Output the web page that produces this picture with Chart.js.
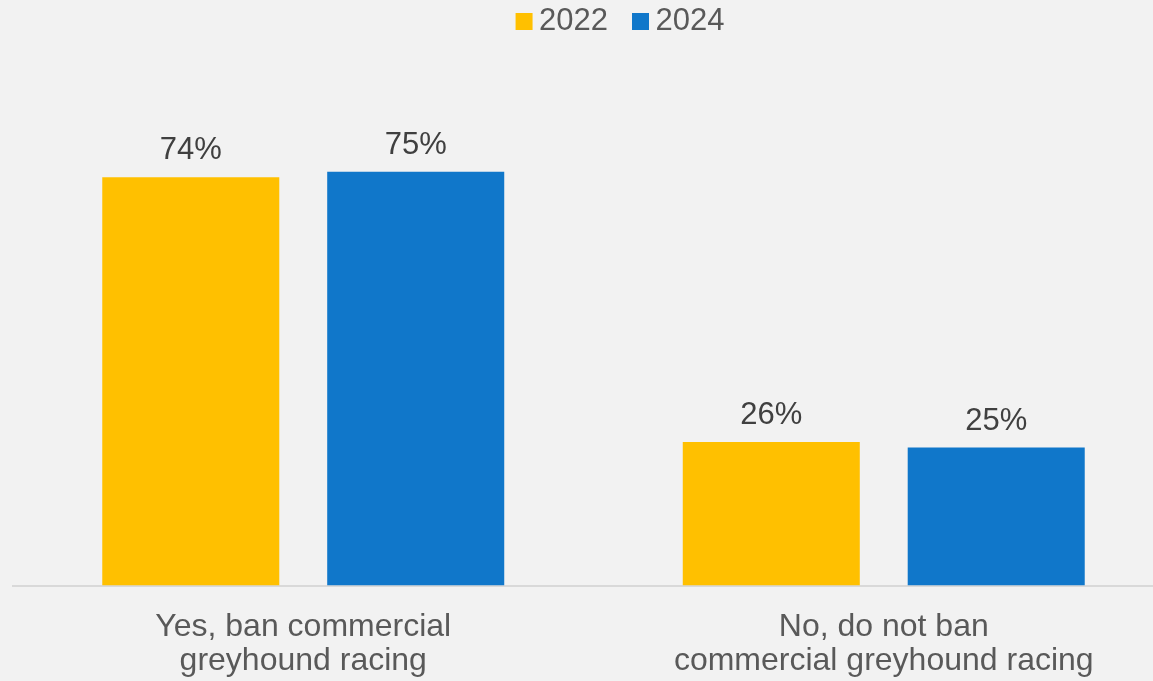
<!DOCTYPE html>
<html>
<head>
<meta charset="utf-8">
<script src="https://cdn.jsdelivr.net/npm/chart.js@4.4.1/dist/chart.umd.min.js"></script>
<style>
  html, body { margin: 0; padding: 0; background: #f2f2f2; overflow: hidden; }
  #wrap { width: 1209px; height: 681px; position: relative; }
</style>
</head>
<body>
<div id="wrap"><canvas id="c"></canvas></div>
<script>
const categories = [
  ["Yes, ban commercial", "greyhound racing"],
  ["No, do not ban", "commercial greyhound racing"]
];
const seriesNames = ["2022", "2024"];
const values2022 = [74, 26];
const values2024 = [75, 25];
const seriesColors = ["#FFC000", "#1077CA"];

const FONT = '"Liberation Sans", Arial, sans-serif';

// legend marker images (square offset inside a wider transparent canvas)
function makeMarker(color) {
  const cv = document.createElement('canvas');
  cv.width = 46; cv.height = 17;
  const g = cv.getContext('2d');
  g.fillStyle = color;
  g.fillRect(28, 0, 17, 17);
  return cv;
}
const markers = seriesColors.map(makeMarker);

const valueLabels = {
  id: 'valueLabels',
  afterDatasetsDraw(chart) {
    const ctx = chart.ctx;
    ctx.save();
    ctx.font = '31px ' + FONT;
    ctx.fillStyle = '#404040';
    ctx.textAlign = 'center';
    ctx.textBaseline = 'alphabetic';
    chart.data.datasets.forEach((ds, i) => {
      chart.getDatasetMeta(i).data.forEach((bar, j) => {
        ctx.fillText(ds.data[j] + '%', bar.x, bar.y - 18);
      });
    });
    ctx.restore();
  }
};

new Chart(document.getElementById('c'), {
  type: 'bar',
  data: {
    labels: categories,
    datasets: [
      { label: seriesNames[0], data: values2022, backgroundColor: seriesColors[0] },
      { label: seriesNames[1], data: values2024, backgroundColor: seriesColors[1] }
    ]
  },
  options: {
    responsive: true,
    maintainAspectRatio: false,
    animation: false,
    devicePixelRatio: 1,
    categoryPercentage: 0.775,
    barPercentage: 0.787,
    layout: { padding: { left: 13, right: 0, top: 0, bottom: 0 } },
    plugins: {
      legend: {
        position: 'top',
        labels: {
          usePointStyle: true,
          pointStyleWidth: 26,
          boxHeight: 17,
          padding: 6,
          color: '#595959',
          font: { size: 31, family: FONT },
          generateLabels(chart) {
            const items = Chart.defaults.plugins.legend.labels.generateLabels(chart);
            items.forEach((it, i) => { it.pointStyle = markers[i]; });
            return items;
          }
        }
      },
      tooltip: { enabled: false }
    },
    scales: {
      x: {
        grid: { display: false, drawTicks: true, tickLength: 22 },
        border: { display: true, color: '#d9d9d9', width: 2 },
        ticks: {
          color: '#595959',
          maxRotation: 0,
          padding: 2,
          font: { size: 32, family: FONT, lineHeight: 1.085 }
        }
      },
      y: {
        position: 'right',
        min: 0,
        max: 97.6,
        grid: { display: false, drawTicks: false },
        border: { display: false },
        ticks: { display: false },
        afterFit(scale) { scale.width = 35; }
      }
    }
  },
  plugins: [valueLabels]
});
</script>
</body>
</html>
